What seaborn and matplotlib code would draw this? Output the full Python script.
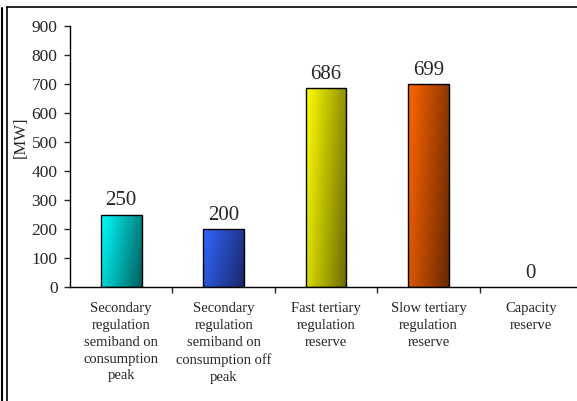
import numpy as np
import matplotlib
matplotlib.use("Agg")
import matplotlib.pyplot as plt
from matplotlib.colors import LinearSegmentedColormap
from matplotlib.lines import Line2D
import seaborn as sns
import pandas as pd

sns.set_style("white")
plt.rcParams['font.family'] = ['Liberation Serif', 'DejaVu Serif']

categories = ["Secondary\nregulation\nsemiband on\nconsumption\npeak",
              "Secondary\nregulation\nsemiband on\nconsumption off\npeak",
              "Fast tertiary\nregulation\nreserve",
              "Slow tertiary\nregulation\nreserve",
              "Capacity\nreserve"]
values = [250, 200, 686, 699, 0]
light = ["#00ffff", "#3366ff", "#ffff00", "#ff6600", "#cccccc"]
dark = ["#005f5f", "#18286a", "#6a6a00", "#6a2800", "#555555"]

df = pd.DataFrame({"cat": categories, "MW": values})

fig = plt.figure(figsize=(5.77, 4.01), dpi=100)
ax = fig.add_axes([70 / 577, 1 - 287 / 401, 512 / 577, 261 / 401])

sns.barplot(data=df, x="cat", y="MW", hue="cat", palette=light, width=0.4,
            edgecolor="black", linewidth=1, legend=False, ax=ax)

# diagonal gradient fill, light top-left to dark bottom-right
xx, yy = np.meshgrid(np.linspace(0, 1, 60), np.linspace(1, 0, 200))
grad = 0.75 * xx + 0.25 * (1 - yy)
for p, c0, c1 in zip(ax.patches, light, dark):
    h = p.get_height()
    if h <= 0:
        p.set_visible(False)
        continue
    x0 = p.get_x()
    w = p.get_width()
    cmap = LinearSegmentedColormap.from_list("g", [c0, c1])
    im = ax.imshow(grad, cmap=cmap, extent=[x0, x0 + w, 0, h], aspect="auto",
                   zorder=p.get_zorder() + 0.1, vmin=0, vmax=1)
    im.set_clip_path(p)
    p.set_zorder(p.get_zorder() + 0.2)
    p.set_facecolor("none")

for p, v in zip(ax.patches, values):
    ax.annotate(f"{v}", (p.get_x() + p.get_width() / 2, p.get_height()),
                xytext=(0, 3), textcoords="offset points", ha="center",
                va="bottom", fontsize=15)

ax.set_xlim(-0.5, 4.5)
ax.set_ylim(0, 900)
ax.set_yticks(range(0, 901, 100))
ax.tick_params(axis="y", labelsize=12.5, direction="out", length=4, width=1,
               left=True, pad=5)
ax.set_xticks(range(5))
ax.set_xticklabels(categories, fontsize=10.5, linespacing=1.38, va="top")
ax.tick_params(axis="x", which="major", length=0, pad=11)
ax.set_xticks(np.arange(0.5, 4.6, 1), minor=True)
ax.tick_params(axis="x", which="minor", direction="out", length=4, width=1,
               bottom=True)
ax.set_xlabel("")
ax.set_ylabel("[MW]", fontsize=12, labelpad=0)
ax.yaxis.set_label_coords(-0.08, 0.575)
for s in ["top", "right"]:
    ax.spines[s].set_visible(False)
for s in ["left", "bottom"]:
    ax.spines[s].set_color("black")
    ax.spines[s].set_linewidth(1)
ax.set_facecolor("white")

# frame around the picture
fig.add_artist(Line2D([1.5 / 577, 1.5 / 577], [0, 1 - 8 / 401], color="black", lw=1.5))
fig.add_artist(Line2D([6.5 / 577, 6.5 / 577], [0, 1 - 7 / 401], color="black", lw=1.2))
fig.add_artist(Line2D([6.5 / 577, 1], [1 - 7 / 401, 1 - 7 / 401], color="black", lw=1.2))

fig.savefig("out.png", dpi=100)
